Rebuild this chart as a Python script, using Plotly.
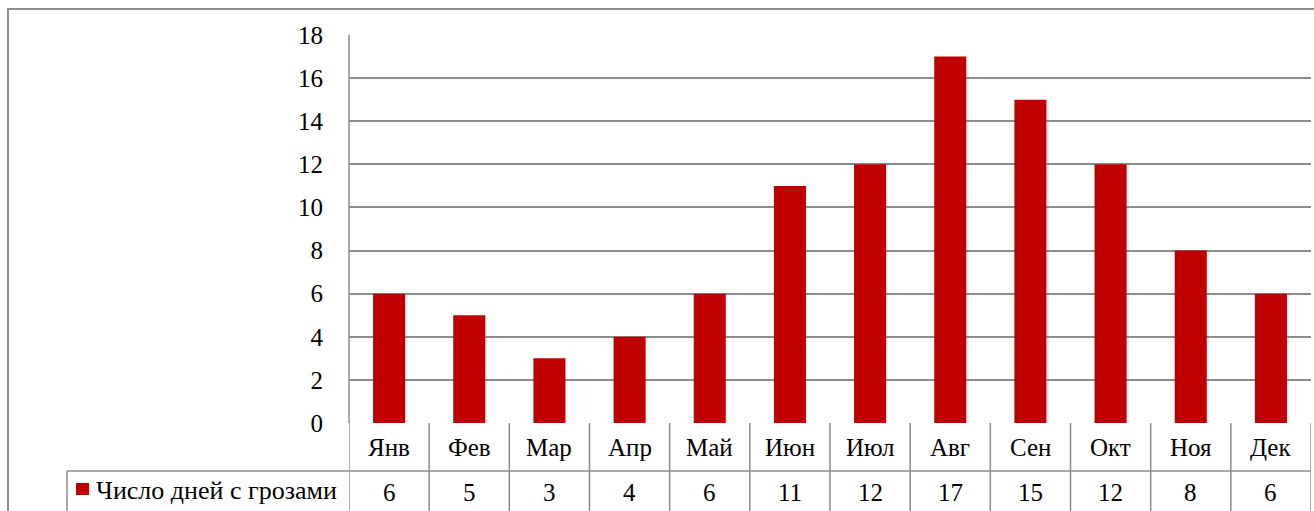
import plotly.graph_objects as go

months = ["Янв", "Фев", "Мар", "Апр", "Май", "Июн", "Июл", "Авг", "Сен", "Окт", "Ноя", "Дек"]
storm_days = [6, 5, 3, 4, 6, 11, 12, 17, 15, 12, 8, 6]
series_name = "Число дней с грозами"
y_ticks = [0, 2, 4, 6, 8, 10, 12, 14, 16, 18]

W, H = 1314, 511
FONT = "Liberation Serif, Times New Roman, serif"
FS = 25
BAR = "#C00000"
LINE = "#8c8c8c"

# pixel helpers (top-left origin) -> paper fractions
def px(x):
    return x / W

def py(y):
    return 1 - y / H

plot_left, plot_right = 349, 1311
plot_top, plot_bottom = 35, 423
row_split, table_bottom = 471, 515

fig = go.Figure()
fig.add_trace(go.Bar(
    x=list(range(len(months))), y=storm_days, marker_color=BAR,
    marker_line_width=0, name=series_name, showlegend=False,
))

shapes = []
# outer chart frame
shapes.append(dict(type="rect", xref="paper", yref="paper",
                   x0=px(8), x1=px(1330), y0=py(9), y1=py(530),
                   line=dict(color=LINE, width=2)))
# data table: horizontal lines
for yy in (row_split, table_bottom):
    shapes.append(dict(type="line", xref="paper", yref="paper",
                       x0=px(plot_left), x1=px(plot_right), y0=py(yy), y1=py(yy),
                       line=dict(color=LINE, width=1.5)))
# legend cell
shapes.append(dict(type="line", xref="paper", yref="paper",
                   x0=px(67), x1=px(plot_left), y0=py(row_split), y1=py(row_split),
                   line=dict(color=LINE, width=1.5)))
shapes.append(dict(type="line", xref="paper", yref="paper",
                   x0=px(67), x1=px(67), y0=py(row_split), y1=py(table_bottom),
                   line=dict(color=LINE, width=1.5)))
# vertical column borders through the table
for i in range(len(months) + 1):
    xb = i - 0.5
    shapes.append(dict(type="line", xref="x", yref="paper",
                       x0=xb, x1=xb, y0=py(plot_bottom), y1=py(table_bottom),
                       line=dict(color=LINE, width=1.5)))
# left axis line over the plot area
shapes.append(dict(type="line", xref="paper", yref="paper",
                   x0=px(plot_left), x1=px(plot_left), y0=py(plot_top), y1=py(plot_bottom),
                   line=dict(color=LINE, width=1.5)))
# legend marker
shapes.append(dict(type="rect", xref="paper", yref="paper",
                   x0=px(76), x1=px(89), y0=py(483), y1=py(495),
                   fillcolor=BAR, line=dict(width=0)))

annotations = []
for i, (m, v) in enumerate(zip(months, storm_days)):
    annotations.append(dict(x=i, y=py((plot_bottom + row_split) / 2), xref="x", yref="paper",
                            text=m, showarrow=False, xanchor="center", yanchor="middle",
                            font=dict(family=FONT, size=FS, color="black")))
    annotations.append(dict(x=i, y=py((row_split + 513) / 2), xref="x", yref="paper",
                            text=str(v), showarrow=False, xanchor="center", yanchor="middle",
                            font=dict(family=FONT, size=FS, color="black")))
annotations.append(dict(x=px(94), y=py(490), xref="paper", yref="paper",
                        text=series_name, showarrow=False, xanchor="left", yanchor="middle",
                        font=dict(family=FONT, size=FS + 1, color="black")))

fig.update_layout(
    width=W, height=H, autosize=False, margin=dict(l=0, r=0, t=0, b=0, pad=0, autoexpand=False),
    paper_bgcolor="white", plot_bgcolor="white",
    bargap=0.6, shapes=shapes, annotations=annotations,
    xaxis=dict(domain=[px(plot_left), px(plot_right)], range=[-0.5, 11.5],
               showticklabels=False, showgrid=False, zeroline=False, ticks="",
               automargin=False),
    yaxis=dict(domain=[py(plot_bottom), py(plot_top)], range=[0, 18],
               tickvals=y_ticks, showgrid=True, gridcolor=LINE, gridwidth=1.5,
               zeroline=False, ticks="", ticklabelstandoff=25, automargin=False,
               tickfont=dict(family=FONT, size=FS, color="black")),
    showlegend=False,
)

fig.write_html("out.html")
